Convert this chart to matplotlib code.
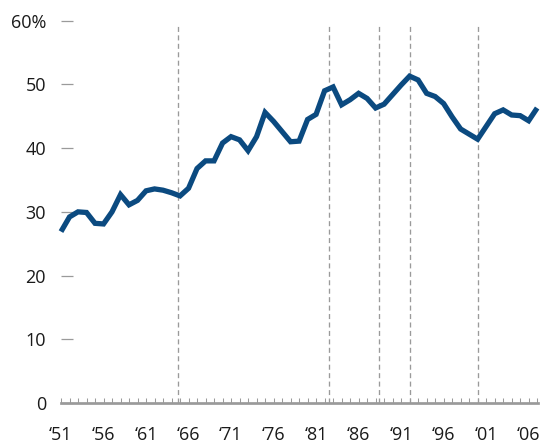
import matplotlib.pyplot as plt

plt.rcParams['font.family'] = ['Open Sans', 'DejaVu Sans']

# share (%), one value per year
years = list(range(1951, 2008))
share = [26.9, 29.2, 30.0, 29.9, 28.2, 28.1, 30.0, 32.7, 31.1, 31.8,
         33.3, 33.6, 33.4, 33.0, 32.5, 33.7, 36.8, 38.0, 38.0, 40.8,
         41.8, 41.3, 39.6, 41.8, 45.6, 44.2, 42.6, 41.0, 41.1, 44.5,
         45.3, 49.0, 49.6, 46.8, 47.6, 48.6, 47.8, 46.3, 46.9, 48.4,
         49.9, 51.3, 50.7, 48.6, 48.1, 47.0, 44.9, 43.0, 42.2, 41.4,
         43.4, 45.4, 46.0, 45.2, 45.1, 44.3, 46.3]

# dashed markers
marker_years = [1964.8, 1982.5, 1988.4, 1992.1, 2000.1]

label_years = list(range(1951, 2007, 5))
y_ticks = [0, 10, 20, 30, 40, 50, 60]
y_labels = ['0', '10', '20', '30', '40', '50', '60%']

grey = '#9a9a9a'
blue = '#0b4a80'

fig = plt.figure(figsize=(5.4, 4.46), dpi=100)
ax = fig.add_axes([61 / 540, 43 / 446, 477 / 540, 382.3 / 446])
ax.set_xlim(1951, 2007.1)
ax.set_ylim(0, 60)

for yr in marker_years:
    ax.axvline(yr, ymin=0, ymax=0.995, color=grey, lw=0.95,
               dashes=(3.8, 2.6), zorder=1)

ax.plot(years, share, color=blue, lw=3.8, solid_joinstyle='miter',
        solid_capstyle='butt', clip_on=False, zorder=3)

for s in ['left', 'top', 'right']:
    ax.spines[s].set_visible(False)
ax.spines['bottom'].set_color(grey)
ax.spines['bottom'].set_linewidth(1.95)

ax.set_yticks(y_ticks)
ax.set_yticklabels(y_labels)
ax.tick_params(axis='y', direction='in', length=8.6, width=0.9, color=grey,
               pad=10.8, labelsize=13, labelcolor='#1a1a1a')

ax.set_xticks(years)
ax.set_xticklabels(['\u2018' + str(y)[2:] if y in label_years else '' for y in years])
ax.tick_params(axis='x', direction='in', length=3.8, width=0.75, color=grey,
               pad=16.5, labelsize=13, labelcolor='#1a1a1a')

fig.savefig('out.png', dpi=100)
